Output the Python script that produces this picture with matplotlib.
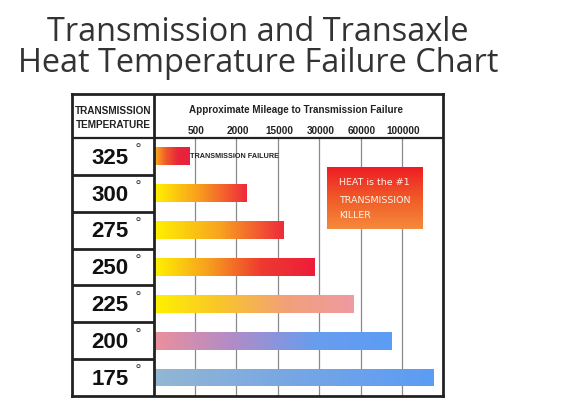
import numpy as np
import matplotlib
matplotlib.use('Agg')
from matplotlib import pyplot as plt
from matplotlib.colors import LinearSegmentedColormap

# data
temps = [325, 300, 275, 250, 225, 200, 175]
# bar ends, in units of the mileage grid (1 = first grid line "500")
bar_len = [0.85, 2.23, 3.13, 3.87, 4.82, 5.73, 6.75]
mileage_labels = ['500', '2000', '15000', '30000', '60000', '100000']
mileage_pos = [1, 2, 3, 4, 5, 6]

bar_colors = [
  ['#fbb41c', '#f15a2b', '#e9253b', '#e6213b'],
  ['#fff200', '#f89a1f', '#ee2a3b'],
  ['#fff200', '#f8a51f', '#ee2a3b'],
  ['#fff200', '#f7a01e', '#ee3a30', '#ed1c3a'],
  ['#fff200', '#f9c52a', '#f2a07a', '#ee9aa2'],
  ['#eb909c', '#b08cc8', '#6a9ced', '#5b9cf5'],
  ['#93b7d3', '#77a6e4', '#5b9cf5'],
]

fig = plt.figure(figsize=(5.67, 3.99), dpi=100, facecolor='white')

# title
fig.text(258/567, 1-41/399, 'Transmission and Transaxle', ha='center', va='baseline',
         fontsize=23.4, family='Open Sans', color='#333333')
fig.text(258/567, 1-72/399, 'Heat Temperature Failure Chart', ha='center', va='baseline',
         fontsize=23.4, family='Open Sans', color='#333333')

ax = fig.add_axes([72/567, 1-396/399, (443-72)/567, (396-94)/399])
x0, x1 = -1.97, 6.99
y0, y1 = 6.5, -1.69

bars = ax.barh(range(len(temps)), bar_len, height=0.48, left=0, color='none', edgecolor='none')
grad = np.linspace(0, 1, 256).reshape(1, -1)
for bar, cols in zip(bars, bar_colors):
  cmap = LinearSegmentedColormap.from_list('g', cols)
  bx, by = bar.get_x(), bar.get_y()
  bw, bh = bar.get_width(), bar.get_height()
  im = ax.imshow(grad, cmap=cmap, aspect='auto', extent=[bx, bx+bw, by+bh, by],
                 interpolation='bilinear', zorder=2)
  im.set_clip_path(bar)

# grid lines and mileage labels in header
ax.vlines(mileage_pos, -0.5, 6.5, color='#8a8a8a', lw=0.9, zorder=1)
for p, lab in zip(mileage_pos, mileage_labels):
  ax.text(p + 0.03, -0.69, lab, ha='center', va='center', fontsize=7.2,
          family='Liberation Sans', fontweight='bold', color='#222222')
ax.text(3.45, -1.26, 'Approximate Mileage to Transmission Failure', ha='center', va='center',
        fontsize=7.1, family='Liberation Sans', fontweight='bold', color='#222222')

# left column
ax.text(-0.98, -1.23, 'TRANSMISSION', ha='center', va='center', fontsize=7.2,
        family='Liberation Sans', fontweight='bold', color='#222222')
ax.text(-0.98, -0.85, 'TEMPERATURE', ha='center', va='center', fontsize=7.2,
        family='Liberation Sans', fontweight='bold', color='#222222')
for i, t in enumerate(temps):
  ax.text(-1.05, i + 0.05, str(t), ha='center', va='center', fontsize=16,
          family='Liberation Sans', fontweight='bold', color='#111111')
  ax.text(-0.38, i - 0.17, '°', ha='center', va='center', fontsize=10,
          family='DejaVu Sans', color='#444444')
ax.hlines([i + 0.5 for i in range(len(temps) - 1)], x0, 0, color='#222222', lw=2)
ax.hlines(-0.5, x0, x1, color='#222222', lw=1.6)
ax.vlines(0, y1, y0, color='#222222', lw=2)

ax.text(0.87, 0.0, 'TRANSMISSION FAILURE', ha='left', va='center', fontsize=5.2,
        family='Liberation Sans', fontweight='bold', color='#222222', zorder=3)

# "HEAT is the #1" box
box_grad = np.linspace(0, 1, 256).reshape(-1, 1)
box_cmap = LinearSegmentedColormap.from_list('b', ['#ee1c25', '#f05a28', '#f58a3c'])
ax.imshow(box_grad, cmap=box_cmap, aspect='auto', extent=[4.2, 6.5, 1.97, 0.29], zorder=2)
for yy, line in zip([0.72, 1.21, 1.61], ['HEAT is the #1', 'TRANSMISSION', 'KILLER']):
  ax.text(4.48, yy, line, ha='left', va='center', fontsize=6.8, family='DejaVu Sans',
          color='#fff3e8', zorder=3)

ax.set_xlim(x0, x1)
ax.set_ylim(y0, y1)
ax.set_xticks([])
ax.set_yticks([])
for s in ax.spines.values():
  s.set_linewidth(2)
  s.set_color('#222222')

plt.savefig('out.png', dpi=100)
